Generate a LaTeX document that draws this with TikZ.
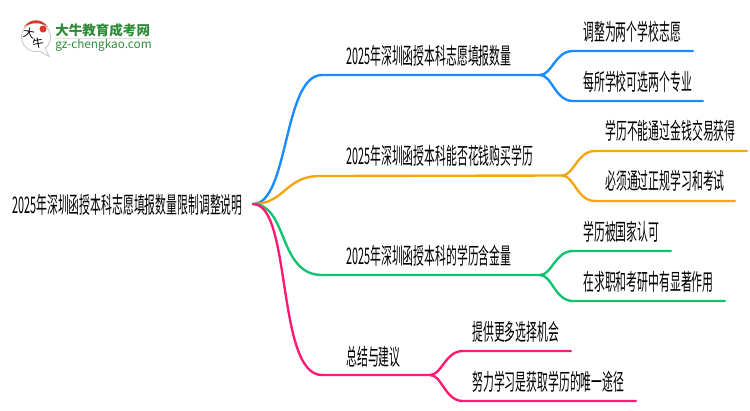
\documentclass[tikz,border=0pt]{standalone}
\usepackage{fontspec}
\setmainfont{Noto Sans CJK SC}
\newfontfamily\cjk[FakeStretch=0.475]{Noto Sans CJK SC}
\newfontfamily\logofont{Noto Sans CJK SC}
\definecolor{branchblue}{HTML}{1A8CFF}
\definecolor{branchorange}{HTML}{F5A60F}
\definecolor{branchgreen}{HTML}{10C36F}
\definecolor{branchpink}{HTML}{FF1A75}
\definecolor{logogreen}{HTML}{2E8B3A}
\definecolor{logored}{HTML}{D8392B}
\tikzset{
    label/.style = {inner sep = 0pt, anchor = west, font = \cjk\fontsize{13pt}{13pt}\selectfont, text = black},
    branch/.style = {line width = 1.35pt, line cap = round},
}
\begin{document}
\begin{tikzpicture}[x = 0.02cm, y = -0.02cm]
    \useasboundingbox (0, 0) rectangle (750, 410);
    % logo
    \draw[black!25, fill = white, line width = 0.4pt] (36, 37) circle (14.5);
    \fill[white] (36, 50) -- (50, 57) -- (43, 44) -- cycle;
    \draw[black!25, line width = 0.4pt] (39, 51) -- (49, 56.5) -- (45, 47);
    \fill[logored] (24, 27) .. controls (30, 18) and (42, 18) .. (48, 27) .. controls (42, 22) and (30, 22) .. (24, 27);
    \fill[logored] (43, 29) circle (3.5);
    \node[inner sep = 0pt, rotate = -10] (logoBig) at (29, 33) {\logofont\fontsize{6.5pt}{6.5pt}\selectfont 大};
    \node[inner sep = 0pt, rotate = 10] (logoOx) at (38, 43) {\logofont\fontsize{6.5pt}{6.5pt}\selectfont 牛};
    \node[inner sep = 0pt, anchor = west, text = logogreen] (logoName) at (55, 30)
        {\logofont\bfseries\fontsize{7.7pt}{7.7pt}\selectfont 大牛教育成考网};
    \node[inner sep = 0pt, anchor = west, text = logogreen] (logoSite) at (55, 45)
        {\logofont\fontsize{6.7pt}{6.7pt}\selectfont gz-chengkao.com};
    \draw[black!12, line width = 0.4pt] (55, 38) -- (150, 38);

    % texts
    \node[label] (root) at (12, 205) {2025年深圳函授本科志愿填报数量限制调整说明};
    \node[label] (number) at (346, 56) {2025年深圳函授本科志愿填报数量};
    \node[label] (money) at (346, 156) {2025年深圳函授本科能否花钱购买学历};
    \node[label] (value) at (346, 256) {2025年深圳函授本科的学历含金量};
    \node[label] (advice) at (346, 357) {总结与建议};
    \node[label] (numberA) at (583, 32) {调整为两个学校志愿};
    \node[label] (numberB) at (583, 82) {每所学校可选两个专业};
    \node[label] (moneyA) at (605, 131) {学历不能通过金钱交易获得};
    \node[label] (moneyB) at (605, 181) {必须通过正规学习和考试};
    \node[label] (valueA) at (583, 232) {学历被国家认可};
    \node[label] (valueB) at (583, 282) {在求职和考研中有显著作用};
    \node[label] (adviceA) at (472, 332) {提供更多选择机会};
    \node[label] (adviceB) at (472, 382) {努力学习是获取学历的唯一途径};

    % junctions
    \coordinate (start) at (253, 204);
    \coordinate (numberFork) at (540, 75);
    \coordinate (moneyFork) at (562, 175.5);
    \coordinate (valueFork) at (540, 275);
    \coordinate (adviceFork) at (430, 375);

    % blue
    \draw[branch, branchblue] (start) .. controls (289, 204) and (283, 75) .. (322, 75) -- (numberFork);
    \draw[branch, branchblue] (numberFork) .. controls (552, 75) and (555, 51) .. (573, 51) -- (693, 51);
    \draw[branch, branchblue] (numberFork) .. controls (552, 75) and (555, 101) .. (573, 101) -- (703, 101);
    % orange
    \draw[branch, branchorange] (start) .. controls (285, 204) and (285, 176) .. (320, 176) -- (moneyFork);
    \draw[branch, branchorange] (moneyFork) .. controls (574, 175.5) and (577, 151) .. (595, 151) -- (747, 151);
    \draw[branch, branchorange] (moneyFork) .. controls (574, 175.5) and (577, 201) .. (595, 201) -- (735, 201);
    % green
    \draw[branch, branchgreen] (start) .. controls (288, 204) and (278, 275) .. (322, 275) -- (valueFork);
    \draw[branch, branchgreen] (valueFork) .. controls (552, 275) and (555, 251) .. (573, 251) -- (671, 251);
    \draw[branch, branchgreen] (valueFork) .. controls (552, 275) and (555, 301) .. (573, 301) -- (725, 301);
    % pink
    \draw[branch, branchpink] (start) .. controls (292, 204) and (276, 375) .. (322, 375) -- (adviceFork);
    \draw[branch, branchpink] (adviceFork) .. controls (442, 375) and (445, 351) .. (463, 351) -- (571, 351);
    \draw[branch, branchpink] (adviceFork) .. controls (442, 375) and (445, 401) .. (463, 401) -- (636, 401);
\end{tikzpicture}
\end{document}
